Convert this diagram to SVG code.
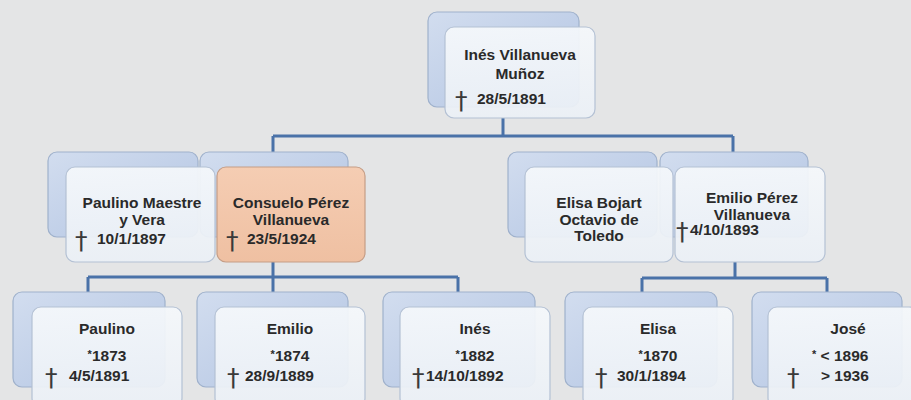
<svg xmlns="http://www.w3.org/2000/svg" width="911" height="400" viewBox="0 0 911 400">
<defs>
<linearGradient id="bk" x1="0" y1="0" x2="1" y2="1">
<stop offset="0" stop-color="#d2ddef"/>
<stop offset="1" stop-color="#b2c4e2"/>
</linearGradient>
<linearGradient id="fr" x1="0" y1="0" x2="0" y2="1">
<stop offset="0" stop-color="#f5f8fb"/>
<stop offset="1" stop-color="#ebf0f6"/>
</linearGradient>
<linearGradient id="pe" x1="0" y1="0" x2="0" y2="1">
<stop offset="0" stop-color="#f5cdb3"/>
<stop offset="1" stop-color="#efc0a2"/>
</linearGradient>
</defs>
<style>
.back{fill:url(#bk);stroke:#9fb1cc;stroke-width:1.2}
.front{fill:url(#fr);fill-opacity:0.93;stroke:#b4c1d4;stroke-width:1.2}
.peach{fill:url(#pe);stroke:#c59d86;stroke-width:1.2}
.t{font-family:"Liberation Sans",Arial,sans-serif;font-weight:bold;font-size:15.5px;fill:#2a2a2a}
.c{text-anchor:middle}
.s{font-size:11px}
.d{font-family:"DejaVu Sans",sans-serif;font-size:25px;fill:#3a3a3a}
.con{fill:none;stroke:#4a72a8;stroke-width:3}
</style>
<rect width="911" height="400" fill="#e4e5e6"/>
<g id="connectors">
<path class="con" d="M503 118V136M273 136H733M273 136V153M733 136V153"/>
<path class="con" d="M273 262V292M88 277H458M88 277V293M458 277V293"/>
<path class="con" d="M735 262V278M642 278H827M642 278V293M827 278V293"/>
</g>
<g id="ines-villanueva">
<rect class="back" x="428" y="12" width="151" height="95" rx="9"/>
<rect class="front" x="445" y="27" width="150" height="91" rx="9"/>
<text class="t c" x="520" y="60">Inés Villanueva</text>
<text class="t c" x="520" y="79">Muñoz</text>
<text class="d" x="455" y="109">†</text>
<text class="t" x="477" y="104">28/5/1891</text>
</g>
<g id="consuelo">
<rect class="back" x="200" y="152" width="148" height="85" rx="9"/>
<rect class="peach" x="217" y="167" width="148" height="95" rx="9"/>
<text class="t c" x="291" y="208">Consuelo Pérez</text>
<text class="t c" x="291" y="225">Villanueva</text>
<text class="d" x="226" y="249">†</text>
<text class="t" x="247" y="244">23/5/1924</text>
</g>
<g id="paulino-maestre">
<rect class="back" x="48" y="152" width="150" height="85" rx="9"/>
<rect class="front" x="66" y="167" width="149" height="95" rx="9"/>
<text class="t c" x="142" y="208">Paulino Maestre</text>
<text class="t c" x="142" y="225">y Vera</text>
<text class="d" x="75" y="249">†</text>
<text class="t" x="97" y="244">10/1/1897</text>
</g>
<g id="emilio-perez">
<rect class="back" x="660" y="152" width="148" height="85" rx="9"/>
<rect class="front" x="675" y="167" width="150" height="95" rx="9"/>
<text class="t c" x="752" y="203">Emilio Pérez</text>
<text class="t c" x="752" y="220">Villanueva</text>
<text class="d" x="676" y="240">†</text>
<text class="t" x="690" y="235">4/10/1893</text>
</g>
<g id="elisa-bojart">
<rect class="back" x="508" y="152" width="149" height="85" rx="9"/>
<rect class="front" x="525" y="167" width="148" height="95" rx="9"/>
<text class="t c" x="599" y="208">Elisa Bojart</text>
<text class="t c" x="599" y="225">Octavio de</text>
<text class="t c" x="599" y="241">Toledo</text>
</g>
<g id="paulino">
<rect class="back" x="13" y="292" width="152" height="95" rx="9"/>
<rect class="front" x="32" y="307" width="150" height="100" rx="9"/>
<text class="t c" x="107" y="334">Paulino</text>
<text class="t c" x="107" y="361"><tspan class="s" dy="-3">*</tspan><tspan dy="3">1873</tspan></text>
<text class="d" x="45" y="386">†</text>
<text class="t" x="69" y="381">4/5/1891</text>
</g>
<g id="emilio">
<rect class="back" x="197" y="292" width="151" height="95" rx="9"/>
<rect class="front" x="215" y="307" width="150" height="100" rx="9"/>
<text class="t c" x="290" y="334">Emilio</text>
<text class="t c" x="290" y="361"><tspan class="s" dy="-3">*</tspan><tspan dy="3">1874</tspan></text>
<text class="d" x="227" y="386">†</text>
<text class="t" x="245" y="381">28/9/1889</text>
</g>
<g id="ines">
<rect class="back" x="383" y="292" width="152" height="95" rx="9"/>
<rect class="front" x="400" y="307" width="150" height="100" rx="9"/>
<text class="t c" x="475" y="334">Inés</text>
<text class="t c" x="475" y="361"><tspan class="s" dy="-3">*</tspan><tspan dy="3">1882</tspan></text>
<text class="d" x="412" y="386">†</text>
<text class="t" x="426" y="381">14/10/1892</text>
</g>
<g id="elisa">
<rect class="back" x="565" y="292" width="152" height="95" rx="9"/>
<rect class="front" x="583" y="307" width="150" height="100" rx="9"/>
<text class="t c" x="658" y="334">Elisa</text>
<text class="t c" x="658" y="361"><tspan class="s" dy="-3">*</tspan><tspan dy="3">1870</tspan></text>
<text class="d" x="595" y="386">†</text>
<text class="t" x="617" y="381">30/1/1894</text>
</g>
<g id="jose">
<rect class="back" x="752" y="292" width="150" height="95" rx="9"/>
<rect class="front" x="768" y="307" width="150" height="100" rx="9"/>
<text class="t c" x="848" y="334">José</text>
<text class="t" x="812" y="361"><tspan class="s" dy="-3">*</tspan><tspan dy="3"> &lt; 1896</tspan></text>
<text class="d" x="787" y="386">†</text>
<text class="t" x="821" y="381">&gt; 1936</text>
</g>
</svg>
